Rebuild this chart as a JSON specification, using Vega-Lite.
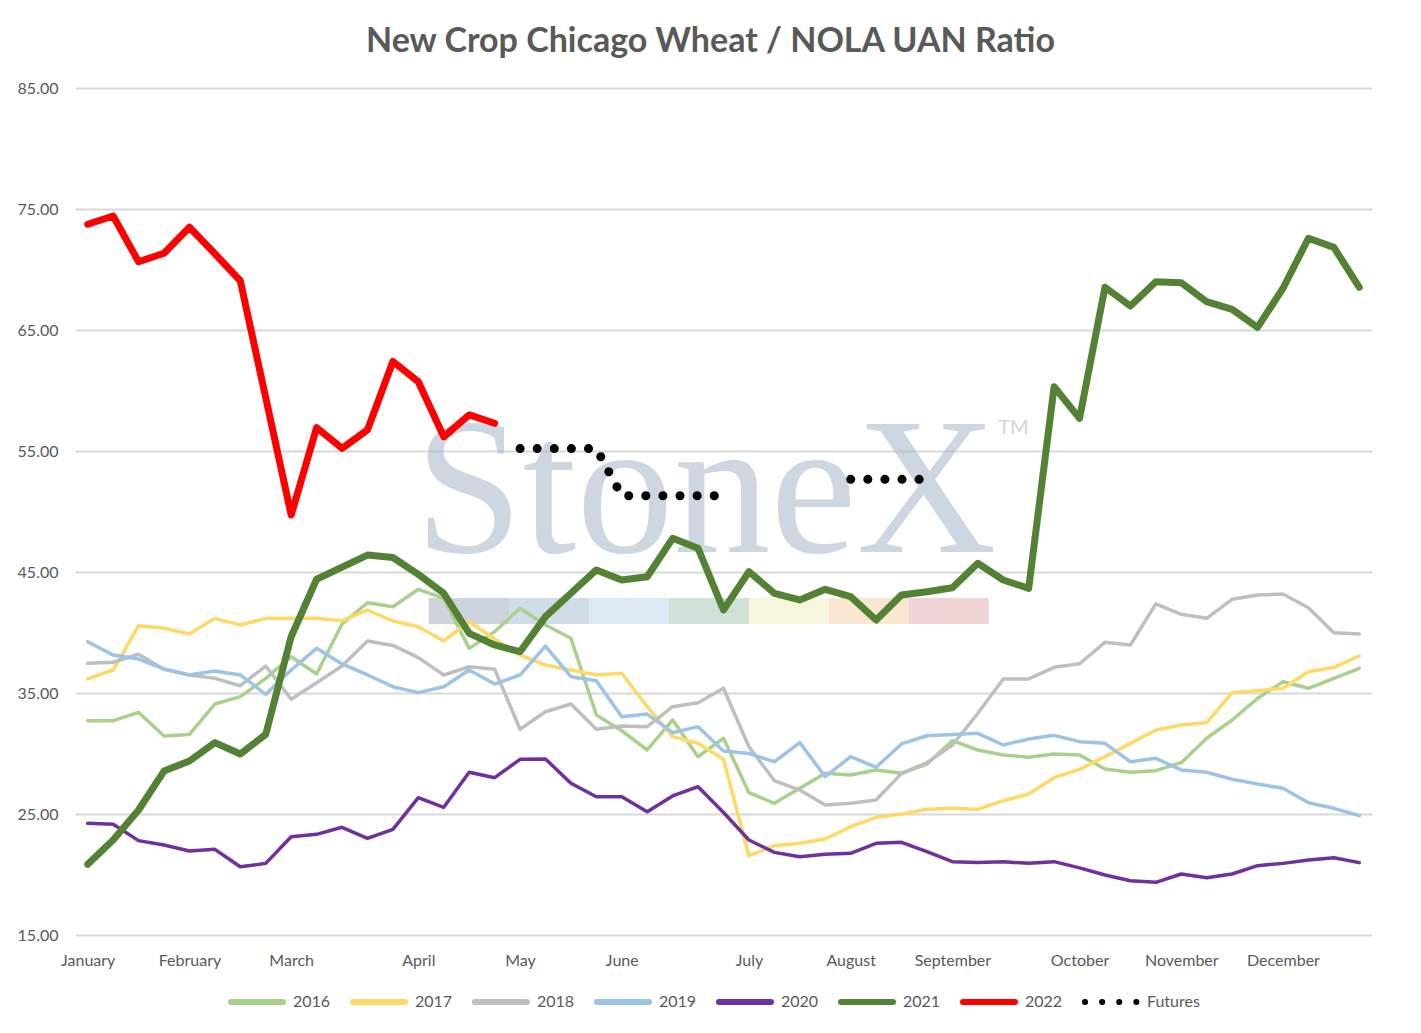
{
  "$schema": "https://vega.github.io/schema/vega-lite/v6.json",
  "width": 1297,
  "height": 847,
  "autosize": {"type": "none"},
  "padding": {"left": 75, "top": 88, "right": 49, "bottom": 98},
  "background": "white",
  "title": {
    "text": "New Crop Chicago Wheat / NOLA UAN Ratio",
    "font": "Lato",
    "fontSize": 34,
    "fontWeight": "bold",
    "color": "#595959",
    "anchor": "middle",
    "dx": -13,
    "offset": 21
  },
  "config": {
    "view": {"stroke": null},
    "axis": {"labelFont": "Lato", "labelFontSize": 16, "labelColor": "#595959"},
    "legend": {
      "direction": "horizontal",
      "labelFont": "Lato",
      "labelFontSize": 16,
      "labelColor": "#595959",
      "symbolType": "stroke",
      "symbolSize": 2704,
      "symbolStrokeWidth": 6,
      "labelOffset": 7,
      "columnPadding": 10,
      "padding": 0
    }
  },
  "layer": [
    {
      "data": {"values": [{}]},
      "mark": {
        "type": "rect",
        "fill": {
          "gradient": "linear",
          "stops": [
            {"offset": 0, "color": "#cdd4de"},
            {"offset": 0.1428, "color": "#cdd4de"},
            {"offset": 0.1429, "color": "#d2dce8"},
            {"offset": 0.2857, "color": "#d2dce8"},
            {"offset": 0.2858, "color": "#ddeaf5"},
            {"offset": 0.4285, "color": "#ddeaf5"},
            {"offset": 0.4286, "color": "#d0e1d8"},
            {"offset": 0.5714, "color": "#d0e1d8"},
            {"offset": 0.5715, "color": "#f7f5dd"},
            {"offset": 0.7142, "color": "#f7f5dd"},
            {"offset": 0.7143, "color": "#f8e6d1"},
            {"offset": 0.8571, "color": "#f8e6d1"},
            {"offset": 0.8572, "color": "#f0d4d5"},
            {"offset": 1, "color": "#f0d4d5"}
          ]
        }
      },
      "encoding": {
        "x": {"datum": 13.41, "type": "quantitative"},
        "x2": {"datum": 35.43},
        "y": {"datum": 42.85, "type": "quantitative"},
        "y2": {"datum": 40.7}
      }
    },
    {
      "data": {"values": [{}]},
      "mark": {
        "type": "text",
        "text": "StoneX",
        "font": "Liberation Serif",
        "fontSize": 194,
        "align": "center",
        "baseline": "alphabetic",
        "fill": "#9fb0c4",
        "opacity": 0.5
      },
      "encoding": {
        "x": {"datum": 24.3, "type": "quantitative"},
        "y": {"datum": 46.65, "type": "quantitative"}
      }
    },
    {
      "data": {"values": [{}]},
      "mark": {
        "type": "text",
        "text": "TM",
        "font": "Lato",
        "fontSize": 20,
        "align": "center",
        "baseline": "middle",
        "fill": "#9fb0c4",
        "opacity": 0.5
      },
      "encoding": {
        "x": {"datum": 36.4, "type": "quantitative"},
        "y": {"datum": 56.9, "type": "quantitative"}
      }
    },
    {
      "data": {
        "values": [
          {"s":"2016","w":0,"v":32.71},{"s":"2016","w":1,"v":32.71},{"s":"2016","w":2,"v":33.4},{"s":"2016","w":3,"v":31.45},{"s":"2016","w":4,"v":31.58},{"s":"2016","w":5,"v":34.09},{"s":"2016","w":6,"v":34.7},{"s":"2016","w":7,"v":36.21},{"s":"2016","w":8,"v":38.0},{"s":"2016","w":9,"v":36.57},{"s":"2016","w":10,"v":40.7},{"s":"2016","w":11,"v":42.46},{"s":"2016","w":12,"v":42.13},{"s":"2016","w":13,"v":43.57},{"s":"2016","w":14,"v":42.83},{"s":"2016","w":15,"v":38.69},{"s":"2016","w":16,"v":40.07},{"s":"2016","w":17,"v":42.0},{"s":"2016","w":18,"v":40.62},{"s":"2016","w":19,"v":39.52},{"s":"2016","w":20,"v":33.18},{"s":"2016","w":21,"v":31.88},{"s":"2016","w":22,"v":30.29},{"s":"2016","w":23,"v":32.77},{"s":"2016","w":24,"v":29.74},{"s":"2016","w":25,"v":31.26},{"s":"2016","w":26,"v":26.76},{"s":"2016","w":27,"v":25.88},{"s":"2016","w":28,"v":27.12},{"s":"2016","w":29,"v":28.36},{"s":"2016","w":30,"v":28.22},{"s":"2016","w":31,"v":28.64},{"s":"2016","w":32,"v":28.36},{"s":"2016","w":33,"v":29.13},{"s":"2016","w":34,"v":31.06},{"s":"2016","w":35,"v":30.29},{"s":"2016","w":36,"v":29.88},{"s":"2016","w":37,"v":29.69},{"s":"2016","w":38,"v":29.96},{"s":"2016","w":39,"v":29.88},{"s":"2016","w":40,"v":28.72},{"s":"2016","w":41,"v":28.45},{"s":"2016","w":42,"v":28.58},{"s":"2016","w":43,"v":29.24},{"s":"2016","w":44,"v":31.26},{"s":"2016","w":45,"v":32.77},{"s":"2016","w":46,"v":34.56},{"s":"2016","w":47,"v":35.93},{"s":"2016","w":48,"v":35.39},{"s":"2016","w":49,"v":36.21},{"s":"2016","w":50,"v":37.04},
          {"s":"2017","w":0,"v":36.16},{"s":"2017","w":1,"v":36.9},{"s":"2017","w":2,"v":40.56},{"s":"2017","w":3,"v":40.35},{"s":"2017","w":4,"v":39.88},{"s":"2017","w":5,"v":41.17},{"s":"2017","w":6,"v":40.62},{"s":"2017","w":7,"v":41.17},{"s":"2017","w":8,"v":41.17},{"s":"2017","w":9,"v":41.17},{"s":"2017","w":10,"v":40.98},{"s":"2017","w":11,"v":41.86},{"s":"2017","w":12,"v":40.95},{"s":"2017","w":13,"v":40.48},{"s":"2017","w":14,"v":39.3},{"s":"2017","w":15,"v":40.89},{"s":"2017","w":16,"v":39.46},{"s":"2017","w":17,"v":38.14},{"s":"2017","w":18,"v":37.31},{"s":"2017","w":19,"v":36.9},{"s":"2017","w":20,"v":36.49},{"s":"2017","w":21,"v":36.63},{"s":"2017","w":22,"v":33.87},{"s":"2017","w":23,"v":31.39},{"s":"2017","w":24,"v":30.84},{"s":"2017","w":25,"v":29.52},{"s":"2017","w":26,"v":21.55},{"s":"2017","w":27,"v":22.38},{"s":"2017","w":28,"v":22.58},{"s":"2017","w":29,"v":22.93},{"s":"2017","w":30,"v":23.95},{"s":"2017","w":31,"v":24.73},{"s":"2017","w":32,"v":25.0},{"s":"2017","w":33,"v":25.39},{"s":"2017","w":34,"v":25.47},{"s":"2017","w":35,"v":25.39},{"s":"2017","w":36,"v":26.1},{"s":"2017","w":37,"v":26.65},{"s":"2017","w":38,"v":28.0},{"s":"2017","w":39,"v":28.69},{"s":"2017","w":40,"v":29.74},{"s":"2017","w":41,"v":30.84},{"s":"2017","w":42,"v":31.94},{"s":"2017","w":43,"v":32.36},{"s":"2017","w":44,"v":32.55},{"s":"2017","w":45,"v":35.03},{"s":"2017","w":46,"v":35.19},{"s":"2017","w":47,"v":35.39},{"s":"2017","w":48,"v":36.76},{"s":"2017","w":49,"v":37.12},{"s":"2017","w":50,"v":38.06},
          {"s":"2018","w":0,"v":37.45},{"s":"2018","w":1,"v":37.54},{"s":"2018","w":2,"v":38.2},{"s":"2018","w":3,"v":36.96},{"s":"2018","w":4,"v":36.49},{"s":"2018","w":5,"v":36.21},{"s":"2018","w":6,"v":35.6},{"s":"2018","w":7,"v":37.23},{"s":"2018","w":8,"v":34.48},{"s":"2018","w":9,"v":35.85},{"s":"2018","w":10,"v":37.23},{"s":"2018","w":11,"v":39.3},{"s":"2018","w":12,"v":38.93},{"s":"2018","w":13,"v":37.92},{"s":"2018","w":14,"v":36.49},{"s":"2018","w":15,"v":37.17},{"s":"2018","w":16,"v":36.96},{"s":"2018","w":17,"v":32.0},{"s":"2018","w":18,"v":33.45},{"s":"2018","w":19,"v":34.09},{"s":"2018","w":20,"v":32.0},{"s":"2018","w":21,"v":32.27},{"s":"2018","w":22,"v":32.22},{"s":"2018","w":23,"v":33.87},{"s":"2018","w":24,"v":34.2},{"s":"2018","w":25,"v":35.39},{"s":"2018","w":26,"v":30.56},{"s":"2018","w":27,"v":27.75},{"s":"2018","w":28,"v":26.98},{"s":"2018","w":29,"v":25.74},{"s":"2018","w":30,"v":25.88},{"s":"2018","w":31,"v":26.16},{"s":"2018","w":32,"v":28.36},{"s":"2018","w":33,"v":29.24},{"s":"2018","w":34,"v":30.7},{"s":"2018","w":35,"v":33.32},{"s":"2018","w":36,"v":36.16},{"s":"2018","w":37,"v":36.16},{"s":"2018","w":38,"v":37.12},{"s":"2018","w":39,"v":37.42},{"s":"2018","w":40,"v":39.19},{"s":"2018","w":41,"v":38.97},{"s":"2018","w":42,"v":42.36},{"s":"2018","w":43,"v":41.5},{"s":"2018","w":44,"v":41.17},{"s":"2018","w":45,"v":42.74},{"s":"2018","w":46,"v":43.1},{"s":"2018","w":47,"v":43.18},{"s":"2018","w":48,"v":42.05},{"s":"2018","w":49,"v":39.98},{"s":"2018","w":50,"v":39.88},
          {"s":"2019","w":0,"v":39.24},{"s":"2019","w":1,"v":38.14},{"s":"2019","w":2,"v":37.81},{"s":"2019","w":3,"v":36.98},{"s":"2019","w":4,"v":36.49},{"s":"2019","w":5,"v":36.82},{"s":"2019","w":6,"v":36.49},{"s":"2019","w":7,"v":34.89},{"s":"2019","w":8,"v":36.9},{"s":"2019","w":9,"v":38.69},{"s":"2019","w":10,"v":37.4},{"s":"2019","w":11,"v":36.49},{"s":"2019","w":12,"v":35.52},{"s":"2019","w":13,"v":35.03},{"s":"2019","w":14,"v":35.52},{"s":"2019","w":15,"v":36.9},{"s":"2019","w":16,"v":35.74},{"s":"2019","w":17,"v":36.49},{"s":"2019","w":18,"v":38.88},{"s":"2019","w":19,"v":36.35},{"s":"2019","w":20,"v":36.02},{"s":"2019","w":21,"v":33.04},{"s":"2019","w":22,"v":33.26},{"s":"2019","w":23,"v":31.72},{"s":"2019","w":24,"v":32.22},{"s":"2019","w":25,"v":30.2},{"s":"2019","w":26,"v":30.0},{"s":"2019","w":27,"v":29.32},{"s":"2019","w":28,"v":30.9},{"s":"2019","w":29,"v":28.08},{"s":"2019","w":30,"v":29.74},{"s":"2019","w":31,"v":28.86},{"s":"2019","w":32,"v":30.79},{"s":"2019","w":33,"v":31.47},{"s":"2019","w":34,"v":31.58},{"s":"2019","w":35,"v":31.67},{"s":"2019","w":36,"v":30.7},{"s":"2019","w":37,"v":31.2},{"s":"2019","w":38,"v":31.5},{"s":"2019","w":39,"v":30.98},{"s":"2019","w":40,"v":30.84},{"s":"2019","w":41,"v":29.32},{"s":"2019","w":42,"v":29.6},{"s":"2019","w":43,"v":28.64},{"s":"2019","w":44,"v":28.45},{"s":"2019","w":45,"v":27.87},{"s":"2019","w":46,"v":27.48},{"s":"2019","w":47,"v":27.12},{"s":"2019","w":48,"v":25.93},{"s":"2019","w":49,"v":25.47},{"s":"2019","w":50,"v":24.86},
          {"s":"2020","w":0,"v":24.23},{"s":"2020","w":1,"v":24.15},{"s":"2020","w":2,"v":22.8},{"s":"2020","w":3,"v":22.44},{"s":"2020","w":4,"v":21.94},{"s":"2020","w":5,"v":22.08},{"s":"2020","w":6,"v":20.64},{"s":"2020","w":7,"v":20.92},{"s":"2020","w":8,"v":23.12},{"s":"2020","w":9,"v":23.32},{"s":"2020","w":10,"v":23.9},{"s":"2020","w":11,"v":22.99},{"s":"2020","w":12,"v":23.73},{"s":"2020","w":13,"v":26.35},{"s":"2020","w":14,"v":25.55},{"s":"2020","w":15,"v":28.45},{"s":"2020","w":16,"v":28.0},{"s":"2020","w":17,"v":29.52},{"s":"2020","w":18,"v":29.55},{"s":"2020","w":19,"v":27.54},{"s":"2020","w":20,"v":26.43},{"s":"2020","w":21,"v":26.43},{"s":"2020","w":22,"v":25.19},{"s":"2020","w":23,"v":26.49},{"s":"2020","w":24,"v":27.26},{"s":"2020","w":25,"v":25.12},{"s":"2020","w":26,"v":22.85},{"s":"2020","w":27,"v":21.83},{"s":"2020","w":28,"v":21.47},{"s":"2020","w":29,"v":21.67},{"s":"2020","w":30,"v":21.75},{"s":"2020","w":31,"v":22.58},{"s":"2020","w":32,"v":22.66},{"s":"2020","w":33,"v":21.89},{"s":"2020","w":34,"v":21.06},{"s":"2020","w":35,"v":21.0},{"s":"2020","w":36,"v":21.06},{"s":"2020","w":37,"v":20.92},{"s":"2020","w":38,"v":21.06},{"s":"2020","w":39,"v":20.55},{"s":"2020","w":40,"v":19.96},{"s":"2020","w":41,"v":19.49},{"s":"2020","w":42,"v":19.35},{"s":"2020","w":43,"v":20.04},{"s":"2020","w":44,"v":19.74},{"s":"2020","w":45,"v":20.04},{"s":"2020","w":46,"v":20.73},{"s":"2020","w":47,"v":20.92},{"s":"2020","w":48,"v":21.2},{"s":"2020","w":49,"v":21.39},{"s":"2020","w":50,"v":20.98},
          {"s":"2021","w":0,"v":20.84},{"s":"2021","w":1,"v":22.85},{"s":"2021","w":2,"v":25.33},{"s":"2021","w":3,"v":28.55},{"s":"2021","w":4,"v":29.38},{"s":"2021","w":5,"v":30.9},{"s":"2021","w":6,"v":29.96},{"s":"2021","w":7,"v":31.58},{"s":"2021","w":8,"v":39.65},{"s":"2021","w":9,"v":44.4},{"s":"2021","w":10,"v":45.4},{"s":"2021","w":11,"v":46.4},{"s":"2021","w":12,"v":46.2},{"s":"2021","w":13,"v":44.8},{"s":"2021","w":14,"v":43.24},{"s":"2021","w":15,"v":39.93},{"s":"2021","w":16,"v":38.97},{"s":"2021","w":17,"v":38.41},{"s":"2021","w":18,"v":41.31},{"s":"2021","w":19,"v":43.24},{"s":"2021","w":20,"v":45.17},{"s":"2021","w":21,"v":44.34},{"s":"2021","w":22,"v":44.61},{"s":"2021","w":23,"v":47.78},{"s":"2021","w":24,"v":46.96},{"s":"2021","w":25,"v":41.86},{"s":"2021","w":26,"v":45.03},{"s":"2021","w":27,"v":43.24},{"s":"2021","w":28,"v":42.69},{"s":"2021","w":29,"v":43.57},{"s":"2021","w":30,"v":42.96},{"s":"2021","w":31,"v":41.03},{"s":"2021","w":32,"v":43.1},{"s":"2021","w":33,"v":43.37},{"s":"2021","w":34,"v":43.7},{"s":"2021","w":35,"v":45.72},{"s":"2021","w":36,"v":44.34},{"s":"2021","w":37,"v":43.65},{"s":"2021","w":38,"v":60.31},{"s":"2021","w":39,"v":57.7},{"s":"2021","w":40,"v":68.53},{"s":"2021","w":41,"v":66.98},{"s":"2021","w":42,"v":68.99},{"s":"2021","w":43,"v":68.91},{"s":"2021","w":44,"v":67.34},{"s":"2021","w":45,"v":66.71},{"s":"2021","w":46,"v":65.22},{"s":"2021","w":47,"v":68.45},{"s":"2021","w":48,"v":72.58},{"s":"2021","w":49,"v":71.83},{"s":"2021","w":50,"v":68.53},
          {"s":"2022","w":0,"v":73.74},{"s":"2022","w":1,"v":74.42},{"s":"2022","w":2,"v":70.64},{"s":"2022","w":3,"v":71.34},{"s":"2022","w":4,"v":73.49},{"s":"2022","w":5,"v":71.3},{"s":"2022","w":6,"v":69.07},{"s":"2022","w":7,"v":59.4},{"s":"2022","w":8,"v":49.71},{"s":"2022","w":9,"v":56.93},{"s":"2022","w":10,"v":55.22},{"s":"2022","w":11,"v":56.74},{"s":"2022","w":12,"v":62.4},{"s":"2022","w":13,"v":60.73},{"s":"2022","w":14,"v":56.18},{"s":"2022","w":15,"v":57.98},{"s":"2022","w":16,"v":57.29},
          {"s":"Futures","seg":"a","w":17,"v":55.2},{"s":"Futures","seg":"a","w":18,"v":55.2},{"s":"Futures","seg":"a","w":19,"v":55.2},{"s":"Futures","seg":"a","w":20,"v":55.2},{"s":"Futures","seg":"a","w":21,"v":51.3},{"s":"Futures","seg":"a","w":22,"v":51.3},{"s":"Futures","seg":"a","w":23,"v":51.3},{"s":"Futures","seg":"a","w":24,"v":51.3},{"s":"Futures","seg":"a","w":25,"v":51.3},
          {"s":"Futures","seg":"b","w":30,"v":52.66},{"s":"Futures","seg":"b","w":31,"v":52.66},{"s":"Futures","seg":"b","w":32,"v":52.66},{"s":"Futures","seg":"b","w":33,"v":52.66}
        ]
      },
      "encoding": {
        "x": {
          "field": "w",
          "type": "quantitative",
          "scale": {"domain": [-0.5, 50.5], "nice": false, "zero": false},
          "axis": {
            "title": null,
            "values": [0, 4, 8, 13, 17, 21, 26, 30, 34, 39, 43, 47],
            "labelExpr": "['January','February','March','April','May','June','July','August','September','October','November','December'][indexof([0,4,8,13,17,21,26,30,34,39,43,47], datum.value)]",
            "grid": false,
            "domain": false,
            "ticks": false,
            "tickSize": 0,
            "labelPadding": 17,
            "labelFlush": false,
            "labelOverlap": false
          }
        },
        "y": {
          "field": "v",
          "type": "quantitative",
          "scale": {"domain": [15, 85], "nice": false, "zero": false},
          "axis": {
            "title": null,
            "values": [15, 25, 35, 45, 55, 65, 75, 85],
            "format": ".2f",
            "grid": true,
            "gridColor": "#d9d9d9",
            "gridWidth": 2,
            "domain": false,
            "ticks": false,
            "tickSize": 0,
            "labelPadding": 17
          }
        },
        "detail": {"field": "seg", "type": "nominal"},
        "color": {
          "field": "s",
          "type": "nominal",
          "scale": {
            "domain": ["2016", "2017", "2018", "2019", "2020", "2021", "2022", "Futures"],
            "range": ["#a9d18e", "#ffd966", "#bfbfbf", "#9dc3e6", "#7030a0", "#548235", "#ff0000", "#000000"]
          },
          "legend": {
            "title": null,
            "orient": "none",
            "legendX": 153,
            "legendY": 885,
            "encode": {"symbols": {"update": {"strokeCap": {"value": "round"}}}}
          }
        }
      },
      "layer": [
        {
          "transform": [{"filter": {"field": "s", "oneOf": ["2016", "2017", "2018", "2019", "2020"]}}],
          "mark": {"type": "line", "strokeWidth": 3.5, "strokeCap": "round", "strokeJoin": "round"}
        },
        {
          "transform": [{"filter": {"field": "s", "oneOf": ["2021", "2022"]}}],
          "mark": {"type": "line", "strokeWidth": 7, "strokeCap": "round", "strokeJoin": "round"}
        },
        {
          "transform": [{"filter": {"field": "s", "equal": "Futures"}}],
          "mark": {"type": "line", "strokeWidth": 9, "strokeCap": "round", "strokeJoin": "round"},
          "encoding": {
            "strokeDash": {
              "field": "s",
              "type": "nominal",
              "scale": {
                "domain": ["2016", "2017", "2018", "2019", "2020", "2021", "2022", "Futures"],
                "range": [[1, 0], [1, 0], [1, 0], [1, 0], [1, 0], [1, 0], [1, 0], [0.1, 17]]
              },
              "legend": {"title": null}
            }
          }
        }
      ]
    }
  ]
}
